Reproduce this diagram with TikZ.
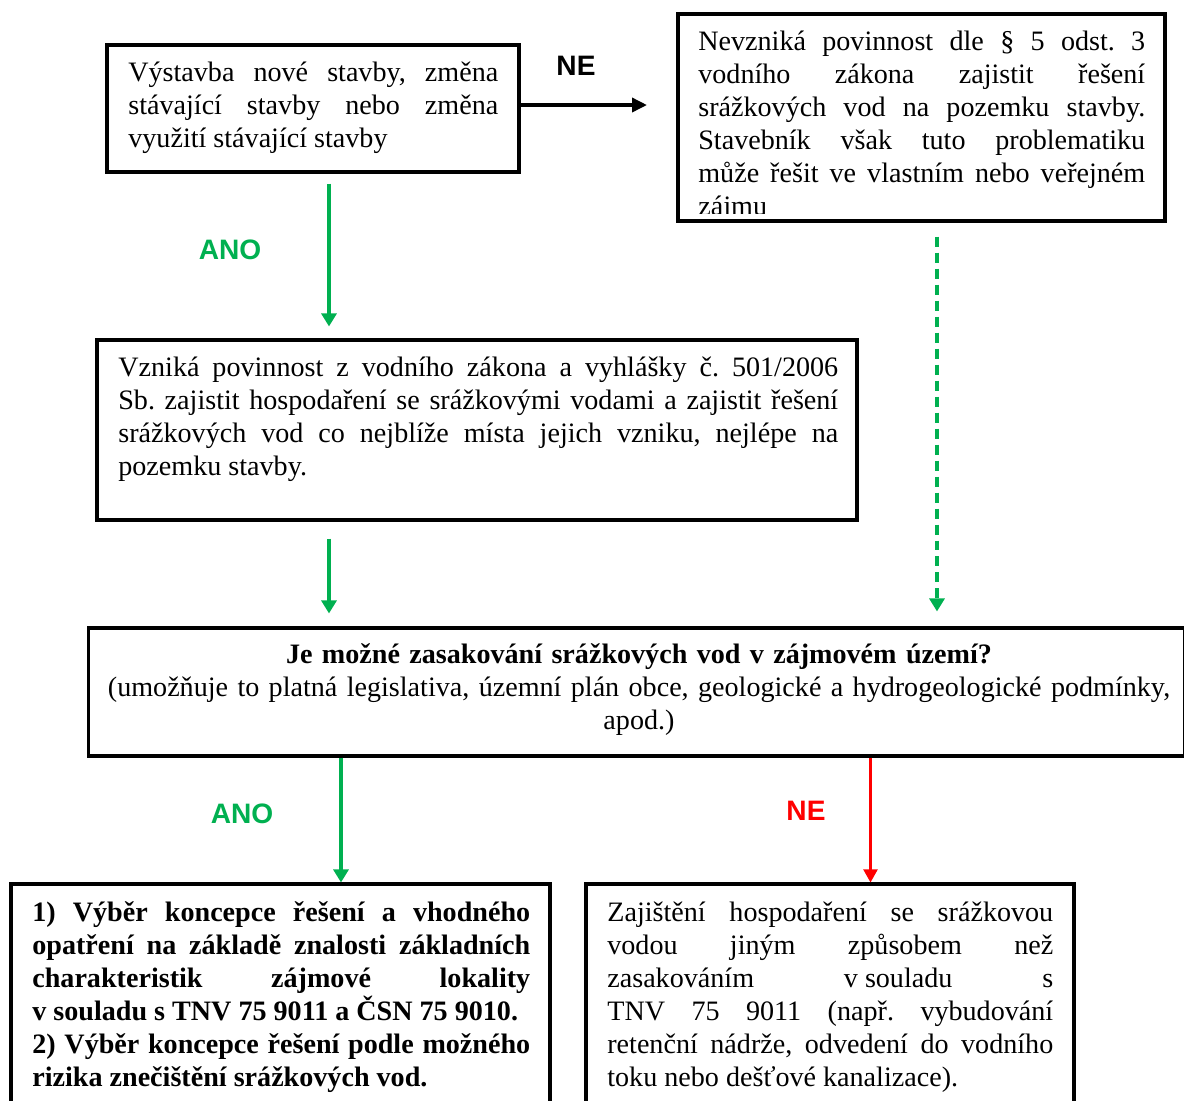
\documentclass[tikz,border=0pt]{standalone}
\usepackage{fontspec}
\setmainfont{Liberation Serif}
\newfontfamily\answerfont{Liberation Sans}
\usetikzlibrary{arrows.meta}
\definecolor{anogreen}{RGB}{0,176,80}
\definecolor{nered}{RGB}{255,0,0}
\newcommand\firstln{\vrule height16pt depth0pt width0pt\relax}
\hyphenpenalty=10000 \exhyphenpenalty=10000 \parindent=0pt
\begin{document}
\frenchspacing
\begin{tikzpicture}[x=0.02cm, y=-0.02cm,
    flowbox/.style={draw, line width=1.8pt, inner sep=0pt},
    boxtext/.style={inner sep=0pt, anchor=north west, align=justify, font=\fontsize{16}{18.8}\selectfont},
    answer/.style={font=\answerfont\bfseries\fontsize{16}{19}\selectfont},
    okarrow/.style={draw=anogreen, line width=1.8pt, -{Triangle[length=0.26cm, width=0.3cm]}},
    noarrow/.style={draw=black, line width=2pt, -{Triangle[length=0.3cm, width=0.28cm]}},
    failarrow/.style={draw=nered, line width=1.2pt, -{Triangle[length=0.26cm, width=0.28cm]}}]
  \useasboundingbox (0,0) rectangle (1184,1100);
  \node[flowbox, minimum width=8.24cm, minimum height=2.54cm] (build) at (313,108.5) {};
  \node[flowbox, minimum width=9.74cm, minimum height=4.14cm] (noduty) at (921.5,117.5) {};
  \node[flowbox, minimum width=15.2cm, minimum height=3.6cm] (duty) at (477,430) {};
  \node[flowbox, minimum width=21.94cm, minimum height=2.56cm] (soak) at (636.5,692) {};
  \node[flowbox, minimum width=10.78cm, minimum height=4.52cm] (concept) at (280.5,997) {};
  \node[flowbox, minimum width=9.76cm, minimum height=4.52cm] (other) at (830,997) {};
  \node[boxtext, text width=7.4cm] (buildtext) at (128,53) {\firstln Výstavba nové stavby, změna\linebreak
    stávající stavby nebo změna\linebreak využití stávající stavby};
  \begin{scope}
    \clip (680,16) rectangle (1163,213);
    \node[boxtext, text width=8.94cm] (nodutytext) at (698,22) {\firstln Nevzniká povinnost dle § 5 odst. 3\linebreak
      vodního zákona zajistit řešení\linebreak srážkových vod na pozemku stavby.\linebreak
      Stavebník však tuto problematiku\linebreak může řešit ve vlastním nebo veřejném\linebreak zájmu};
  \end{scope}
  \node[boxtext, text width=14.4cm] (dutytext) at (118,348) {\firstln Vzniká povinnost z vodního zákona a vyhlášky č. 501/2006\linebreak
    Sb. zajistit hospodaření se srážkovými vodami a zajistit řešení\linebreak
    srážkových vod co nejblíže místa jejich vzniku, nejlépe na\linebreak pozemku stavby.};
  \node[boxtext, anchor=north, align=center, text width=21.5cm] (soaktext) at (639,635) {\firstln\textbf{Je možné zasakování srážkových vod v zájmovém území?}\\
    (umožňuje to platná legislativa, územní plán obce, geologické a hydrogeologické podmínky,\\ apod.)};
  \node[boxtext, text width=9.96cm] (concepttext) at (32,893) {\bfseries\firstln 1) Výběr koncepce řešení a vhodného\linebreak
    opatření na základě znalosti základních\linebreak charakteristik zájmové lokality\linebreak
    \mbox{v souladu} s TNV 75 9011 a ČSN 75 9010.\\ 2) Výběr koncepce řešení podle možného\linebreak
    rizika znečištění srážkových vod.};
  \node[boxtext, text width=8.92cm] (othertext) at (607,893) {\firstln Zajištění hospodaření se srážkovou\linebreak
    vodou jiným způsobem než\linebreak zasakováním \mbox{v souladu} s\linebreak TNV 75 9011 (např. vybudování\linebreak
    retenční nádrže, odvedení do vodního\linebreak toku nebo dešťové kanalizace).};
  \coordinate (neend) at (647,105); \coordinate (colA) at (329,0);
  \coordinate (colB) at (937,0); \coordinate (colC) at (341,0); \coordinate (colD) at (870.5,0);
  \draw[noarrow] (build.east |- neend) -- (neend);
  \draw[okarrow, shorten <=0.2cm, shorten >=0.24cm] (build.south -| colA) -- (duty.north -| colA);
  \draw[okarrow, shorten <=0.34cm, shorten >=0.26cm] (duty.south -| colA) -- (soak.north -| colA);
  \draw[okarrow, dash pattern=on 0.2cm off 0.12cm, shorten <=0.28cm, shorten >=0.3cm] (noduty.south -| colB) -- (soak.north -| colB);
  \draw[okarrow] (soak.south -| colC) -- (concept.north -| colC);
  \draw[failarrow] (soak.south -| colD) -- (other.north -| colD);
  \node[answer] (ne) at (576,66) {NE}; \node[answer, text=anogreen] (ano) at (230,250) {ANO};
  \node[answer, text=anogreen] (anosoak) at (242,814) {ANO}; \node[answer, text=nered] (nesoak) at (806,811) {NE};
\end{tikzpicture}
\end{document}
